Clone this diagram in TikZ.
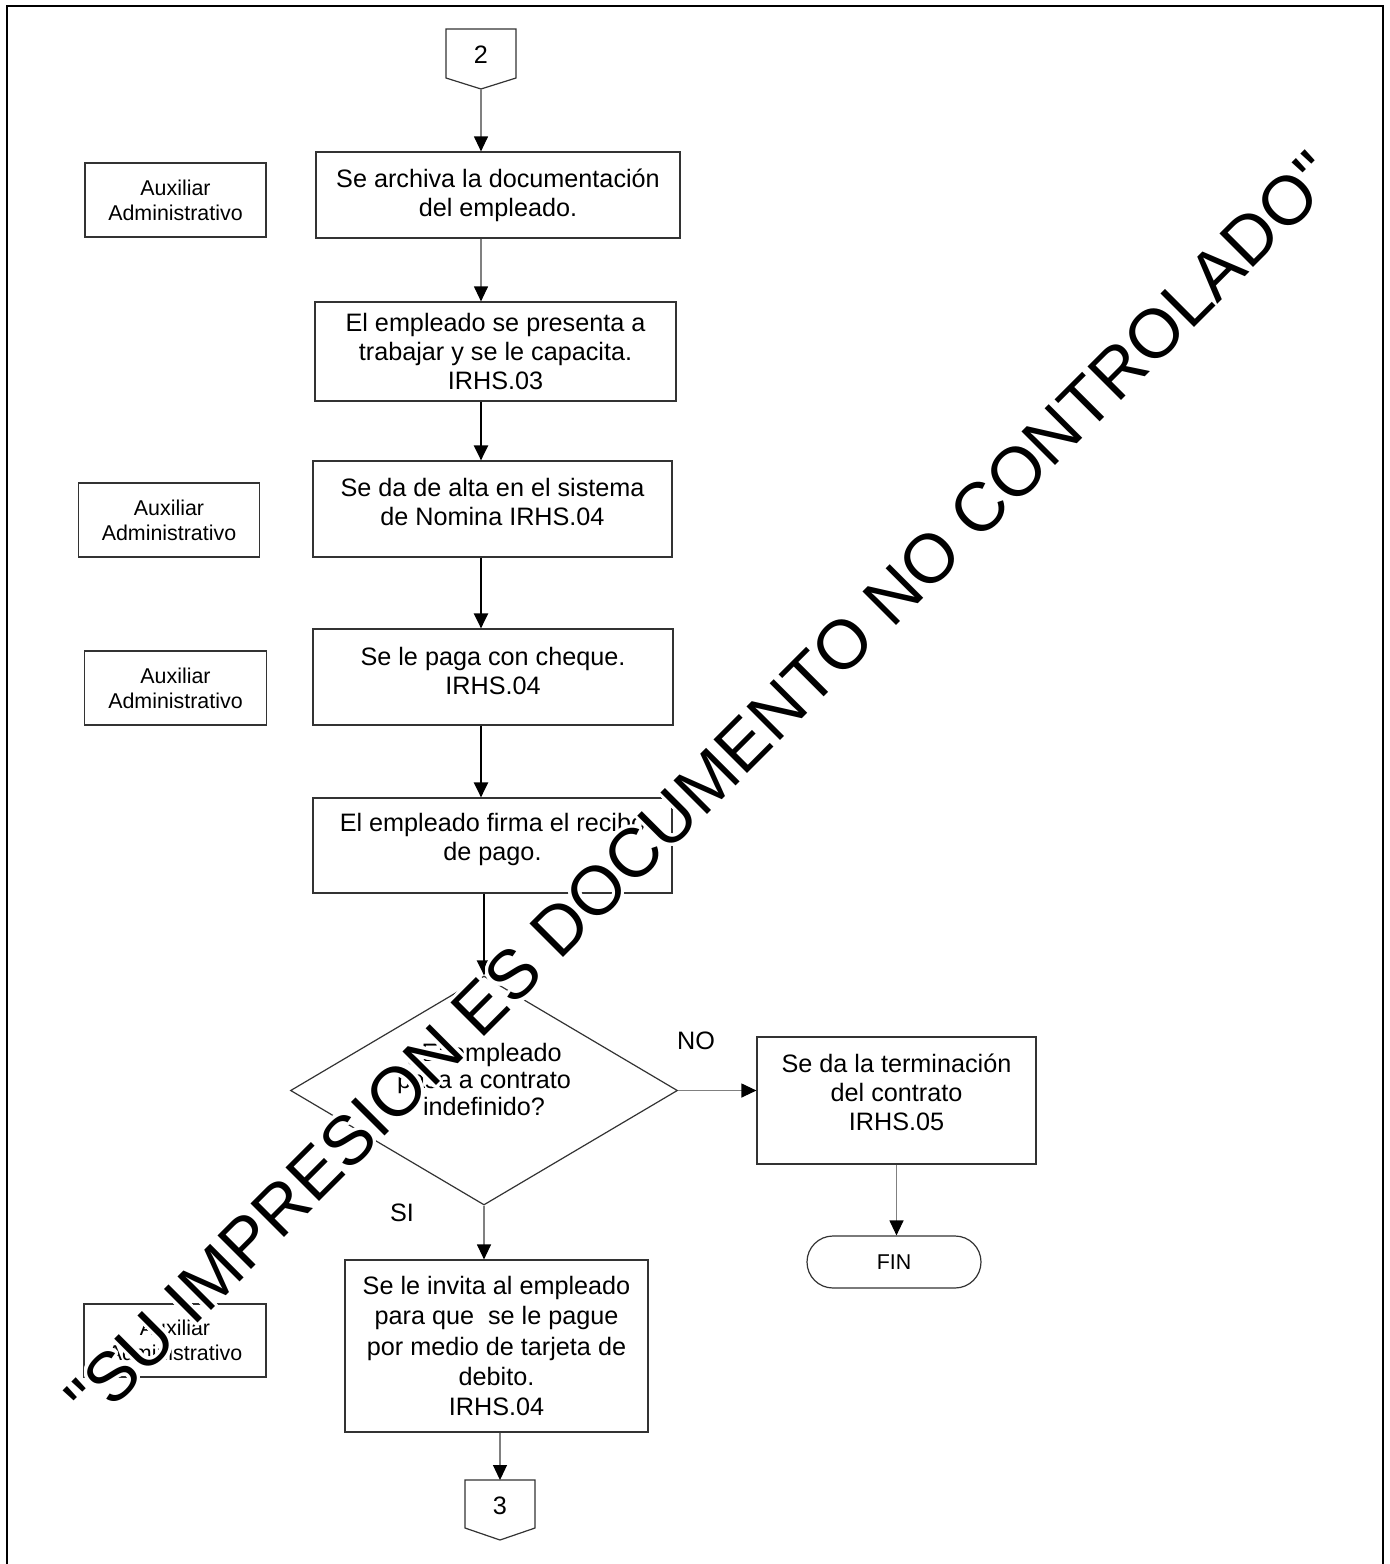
\documentclass[tikz,border=0pt]{standalone}
\usepackage{fontspec}
\setmainfont{Liberation Sans}
\usepackage[copies]{contour}
\contourlength{1.6pt}
\contournumber{32}
\usetikzlibrary{shapes.geometric,arrows.meta}
\begin{document}
\begin{tikzpicture}[x=0.5pt,y=-0.5pt,
  wh/.style 2 args={minimum width=#1*0.5pt, minimum height=#2*0.5pt},
  box/.style={draw=black!80, line width=0.6pt, align=center, inner sep=0pt, font=\fontsize{12.6}{14.5}\selectfont},
  aux/.style={draw=black!80, line width=0.6pt, align=center, inner sep=0pt, font=\fontsize{10.7}{12.5}\selectfont},
  lbl/.style={inner sep=0pt, font=\fontsize{12.6}{14.5}\selectfont},
  tip/.style={-{Triangle[length=7.5pt,width=7pt,color=black]}},
  thinarrow/.style={tip, draw=black!50, line width=0.6pt},
  thickarrow/.style={tip, draw=black, line width=1.1pt},
  conn/.style={draw=black!80, line width=0.6pt}]
\useasboundingbox (0,0) rectangle (1389,1564);
\fill[white] (0,0) rectangle (1389,1564);
% frame
\draw[line width=1.2pt] (7,1564) -- (7,6) -- (1383,6) -- (1383,1564);

% off-page connector 2
\node[lbl] (c2) at (481,55) {2};
\draw[conn] (446,29) -- (516,29) -- (516,78) -- (481,89) -- (446,78) -- cycle;
\coordinate (c2tip) at (481,89);

% boxes
\node[aux, wh={181}{74}] (aux1) at (175.5,200) {Auxiliar\\Administrativo};
\node[box, wh={364}{86}] (b1) at (498,195) {Se archiva la documentación\\del empleado.};
\node[box, wh={361}{99}] (b2) at (495.5,351.5) {El empleado se presenta a\\trabajar y se le capacita.\\IRHS.03};
\node[aux, wh={181}{74}] (aux2) at (169,520) {Auxiliar\\Administrativo};
\node[box, wh={359}{96}] (b3) at (492.5,509) {Se da de alta en el sistema\\de Nomina IRHS.04\\[-7.5pt]\mbox{}};
\node[aux, wh={182}{74}] (aux3) at (175.5,688) {Auxiliar\\Administrativo};
\node[box, wh={360}{96}] (b4) at (493,677) {Se le paga con cheque.\\IRHS.04\\[-8pt]\mbox{}};
\node[box, wh={359}{95}] (b5) at (492.5,845.5) {El empleado firma el recibo\\de pago.\\[-6pt]\mbox{}};
\node[box, diamond, aspect=1.69, wh={387}{229}, font=\fontsize{12.6}{13.5}\selectfont] (d) at (484,1090.5) {¿El empleado\\pasa a contrato\\indefinido?\\[-2.5pt]\mbox{}};
\node[box, wh={279}{127}] (bno) at (896.5,1100.5) {Se da la terminación\\del contrato\\IRHS.05\\[-6pt]\mbox{}};
\node[aux, wh={174}{52}, rounded corners=13pt] (fin) at (894,1262) {FIN};
\node[box, wh={303}{172}, font=\fontsize{12.6}{15.2}\selectfont] (bsi) at (496.5,1346) {Se le invita al empleado\\para que\ \ se le pague\\por medio de tarjeta de\\debito.\\IRHS.04};
\node[aux, wh={182}{73}] (aux4) at (175,1340.5) {Auxiliar\\Administrativo};

% off-page connector 3
\node[lbl] (c3) at (500,1506) {3};
\draw[conn] (465,1480) -- (535,1480) -- (535,1528) -- (500,1540) -- (465,1528) -- cycle;
\coordinate (c3top) at (500,1480);

% labels
\node[lbl] (lno) at (696,1041) {NO};
\node[lbl] (lsi) at (402,1213) {SI};

% connectors
\draw[thinarrow] (c2tip) -- (c2tip |- b1.north);
\draw[thinarrow] (b1.south -| c2tip) -- (b2.north -| c2tip);
\draw[thickarrow] (b2.south -| c2tip) -- (b3.north -| c2tip);
\draw[thickarrow] (b3.south -| c2tip) -- (b4.north -| c2tip);
\draw[thickarrow] (b4.south -| c2tip) -- (b5.north -| c2tip);
\draw[thickarrow] (b5.south -| d.north) -- (d.north);
\draw[thinarrow] (d.east) -- (d.east -| bno.west);
\draw[thinarrow] (d.south) -- (d.south |- bsi.north);
\draw[thinarrow] (bno.south) -- (bno.south |- fin.north);
\draw[thinarrow] (bsi.south -| c3top) -- (c3top);

% watermark
\node[rotate=45, inner sep=0pt, font=\fontsize{34.5}{40}\selectfont] (wm) at (702,788)
  {\contour{white}{\textquotedbl SU IMPRESION ES DOCUMENTO NO CONTROLADO\textquotedbl}};
\end{tikzpicture}
\end{document}
